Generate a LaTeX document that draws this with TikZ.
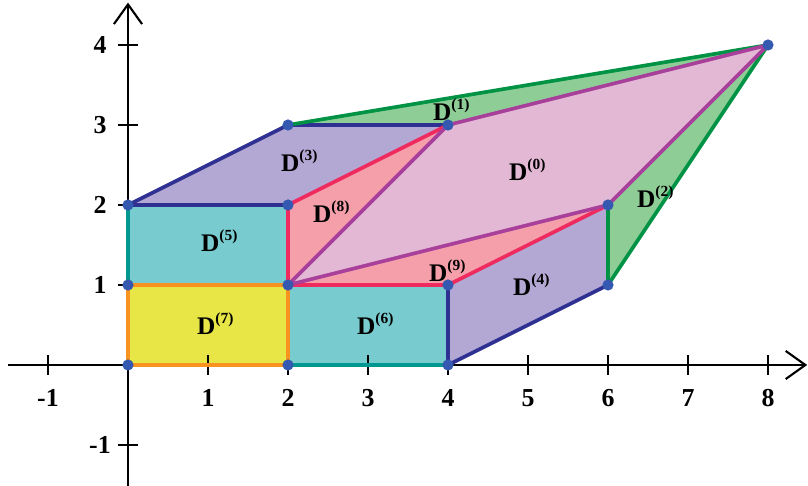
\documentclass[tikz,border=0pt]{standalone}
\usepackage{fontspec}
\setmainfont{Liberation Serif}
\usetikzlibrary{arrows.meta}
\definecolor{cLav}{HTML}{B3A8D3}
\definecolor{cTeal}{HTML}{78CCCF}
\definecolor{cYel}{HTML}{E8E547}
\definecolor{cPink}{HTML}{E2B8D4}
\definecolor{cRose}{HTML}{F59FAA}
\definecolor{cGreenF}{HTML}{8ECD96}
\definecolor{eBlue}{HTML}{2E3192}
\definecolor{eMag}{HTML}{A8409B}
\definecolor{eRed}{HTML}{EE2A5E}
\definecolor{eGreen}{HTML}{009245}
\definecolor{eTeal}{HTML}{009890}
\definecolor{eOrange}{HTML}{F7931E}
\definecolor{cDot}{HTML}{3559B0}
\tikzset{
  axis/.style={line width=0.75pt, black},
  tickmark/.style={line width=0.75pt, black},
  edge/.style={line width=1.3pt, line join=round, line cap=round},
  ticklbl/.style={font=\fontsize{9.2}{10}\selectfont\bfseries, inner sep=0pt},
  regionlbl/.style={font=\fontsize{9}{10}\selectfont\bfseries, inner sep=0pt},
  vdot/.style={circle, fill=cDot, inner sep=0pt, minimum size=0.14cm},
}
\newcommand{\Dl}[1]{D\textsuperscript{\fontsize{5.5}{6}\selectfont\bfseries(#1)}}
\begin{document}
\begin{tikzpicture}
\useasboundingbox (-1.6,-1.5125) rectangle (8.5,4.5625);
% vertices
\coordinate (a00) at (0,0);
\coordinate (a20) at (2,0);
\coordinate (a40) at (4,0);
\coordinate (a01) at (0,1);
\coordinate (a21) at (2,1);
\coordinate (a41) at (4,1);
\coordinate (a61) at (6,1);
\coordinate (a02) at (0,2);
\coordinate (a22) at (2,2);
\coordinate (a62) at (6,2);
\coordinate (a23) at (2,3);
\coordinate (a43) at (4,3);
\coordinate (a84) at (8,4);
% fills
\fill[cYel] (a00) -- (a20) -- (a21) -- (a01) -- cycle;
\fill[cTeal] (a20) -- (a40) -- (a41) -- (a21) -- cycle;
\fill[cTeal] (a01) -- (a21) -- (a22) -- (a02) -- cycle;
\fill[cLav] (a02) -- (a23) -- (a43) -- (a22) -- cycle;
\fill[cLav] (a40) -- (a61) -- (a62) -- (a41) -- cycle;
\fill[cRose] (a21) -- (a22) -- (a43) -- cycle;
\fill[cRose] (a21) -- (a41) -- (a62) -- cycle;
\fill[cGreenF] (a23) -- (a84) -- (a43) -- cycle;
\fill[cGreenF] (a62) -- (a84) -- (a61) -- cycle;
\fill[cPink] (a21) -- (a43) -- (a84) -- (a62) -- cycle;
% axes
\coordinate (xs) at (-1.5,0);
\coordinate (xe) at (8.49,0);
\coordinate (ys) at (0,-1.5125);
\coordinate (ye) at (0,4.53);
\draw[axis, -{Straight Barb[length=7pt,width=10pt,line width=0.75pt]}] (xs) -- (xe);
\draw[axis, -{Straight Barb[length=7pt,width=10pt,line width=0.75pt]}] (ys) -- (ye);
\foreach \x in {-1,1,2,...,8} {
  \draw[tickmark] (\x,-0.12) -- (\x,0.12);
  \node[ticklbl] (tx\x) at (\x,-0.41) {\x};
}
\foreach \y in {-1,1,2,3,4} {
  \draw[tickmark] (-0.12,\y) -- (0.12,\y);
  \node[ticklbl] (ty\y) at (-0.35,\y) {\y};
}
% edges
\draw[edge, eTeal] (a20) -- (a40);
\draw[edge, eTeal] (a01) -- (a02);
\draw[edge, eOrange] (a00) -- (a20) -- (a21) -- (a01) -- cycle;
\draw[edge, eBlue] (a40) -- (a41);
\draw[edge, eBlue] (a40) -- (a61);
\draw[edge, eBlue] (a02) -- (a22);
\draw[edge, eBlue] (a02) -- (a23) -- (a43);
\draw[edge, eRed] (a21) -- (a22) -- (a43);
\draw[edge, eRed] (a21) -- (a41) -- (a62);
\draw[edge, eGreen] (a23) -- (a84);
\draw[edge, eGreen] (a62) -- (a61) -- (a84);
\draw[edge, eMag] (a21) -- (a43) -- (a84) -- (a62) -- cycle;
% dots
\foreach \p in {a00,a20,a40,a01,a21,a41,a61,a02,a22,a62,a23,a43,a84}
  \node[vdot] (d\p) at (\p) {};
% labels
\node[regionlbl] (L0) at (5.0,2.44) {\Dl{0}};
\node[regionlbl] (L1) at (4.05,3.19) {\Dl{1}};
\node[regionlbl] (L2) at (6.6,2.1) {\Dl{2}};
\node[regionlbl] (L3) at (2.15,2.55) {\Dl{3}};
\node[regionlbl] (L4) at (5.05,1.0) {\Dl{4}};
\node[regionlbl] (L5) at (1.15,1.55) {\Dl{5}};
\node[regionlbl] (L6) at (3.1,0.52) {\Dl{6}};
\node[regionlbl] (L7) at (1.1,0.52) {\Dl{7}};
\node[regionlbl] (L8) at (2.55,1.92) {\Dl{8}};
\node[regionlbl] (L9) at (4.0,1.18) {\Dl{9}};
\end{tikzpicture}
\end{document}
